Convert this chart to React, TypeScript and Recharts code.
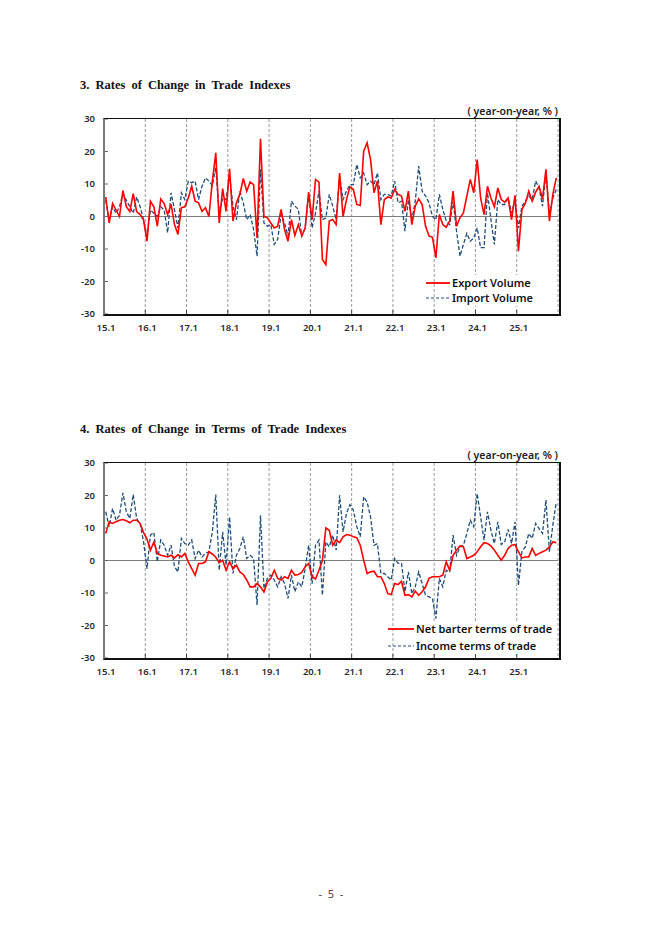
import React from "react";
import { LineChart, Line, XAxis, YAxis, CartesianGrid, ReferenceLine } from "recharts";

// monthly, 15.1 .. 25.12 (year-on-year, %)
const YEAR_LABELS = ["15.1", "16.1", "17.1", "18.1", "19.1", "20.1", "21.1", "22.1", "23.1", "24.1", "25.1"];
const Y_TICKS = [-30, -20, -10, 0, 10, 20, 30];

const EXPORT_VOLUME = [
  6, -2, 4, 2, 0, 8, 3, 1.5, 7, 1.5, 0.6, -1,
  -7.6, 4.7, 3, -3, 5.4, 4, 0.6, 3.7, -2.5, -5.5, 2.7, 3,
  5.7, 9.3, 4.7, 4.2, 1.6, 2.7, 0, 10.8, 19.6, -2, 8.6, 1.6,
  14.7, -1.4, 4.2, 6.8, 11.7, 7.8, 10.6, 9.8, -6.6, 23.9, 0, -0.4,
  -2, -3.5, -3, 2.2, -4, -7.6, -1, -5.8, -2.5, -6, -3.5, 7.5,
  -1, 11.4, 10.6, -13.2, -14.8, -1.4, -0.9, -2.5, 13.4, 0, 5.2, 9.1,
  8.3, 3.7, 3.4, 20.1, 22.7, 17.5, 7.3, 10.9, -2.5, 5.2, 6, 5.7,
  8.3, 6.8, 6.3, 1.6, 7.8, -2.5, 3.2, 5.4, 3.7, -3, -6, -6.4,
  -12.7, 0.6, -2.5, -3.3, -1.4, 7.8, -3, -0.4, 1.1, 6.3, 11.4, 7.3,
  17.5, 5.7, 0.6, 9.3, 5.7, 3, 8.8, 5.2, 4.4, 5.7, -1, 6.5,
  -10.7, 2.2, 4, 7.8, 4.7, 7.5, 9.3, 5.4, 14.5, -1.4, 6.8, 11.9,
];

const IMPORT_VOLUME = [
  5, -1, 3, 1, 3, 7, 5, 3, 1, 6, 3, -1,
  -6, 2, 1, 0, 3, 2, -5, 7.3, 2, -3.5, 7.3, 5.2,
  10.9, 10.4, 10.9, 5.2, 9.3, 11.9, 10.9, 9.5, 15, 1.1, 5.7, 5.2,
  12.9, 3.2, -1, 7.8, 4.2, -1, 0.6, -4, -12.2, 14.5, -2, -3,
  -2.5, -8.6, -7, 0.6, -2, -6, 4.7, 3.2, 2.2, -6, -3.5, 6.8,
  -3.5, 1.1, 7.8, -1, -0.4, 6.8, 3.2, -1, 12.4, 5.2, 7.8, 9.8,
  9.8, 16, 11.9, 13.4, 9.8, 10.9, 9.8, 13.4, 5.2, 6.8, 6.8, 6.3,
  10.9, 4.2, 4.7, -4.5, 5.2, -1, 4.7, 15.5, 7.8, 6.3, 4.2, 0,
  -1, 6.8, 2.2, -1.4, -2.5, 4.7, -4.5, -12.2, -8.6, -5.2, -7.6, -6.6,
  -3.5, -9.6, -9.6, 7.3, -1, -8.6, 5.2, 3.7, 3.7, 5.7, 1.1, 5.2,
  -3.5, 3.2, 4.7, 6.3, 5.2, 10.9, 8.8, 3.2, 13.4, 1.1, 5.7, 8.3,
];

const NET_BARTER_TOT = [
  8.3, 11.9, 11.4, 11.9, 12.4, 12.6, 12.2, 11.6, 12.4, 12.4, 11.4, 8.6,
  6.6, 3.2, 5.7, 2.2, 1.6, 1.4, 1.1, 1.6, 0.8, 1.8, 1.1, 2.2,
  -0.4, -2.5, -4.5, -0.9, -0.9, -0.4, 2.7, 2, 1, -0.6, 0.1, -3,
  -0.4, -2.5, -1.4, -3.5, -4.3, -6, -8.1, -8.1, -7.1, -8.1, -9.7, -6.6,
  -5.5, -3, -5.5, -6, -5, -5.5, -3, -4.5, -4.3, -3.7, -1.9, -0.9,
  -5, -5.7, -3, 0, 10, 9.3, 4.7, 6.3, 5.5, 7.3, 8, 7.8,
  7.3, 7, 4.7, 0.1, -4, -3.5, -3.3, -5, -5, -7.1, -10.2, -10.5,
  -7.1, -7.4, -6.4, -10.7, -10.5, -11.2, -9.4, -10.7, -9.6, -8.1, -5.5, -5,
  -5, -5, -4.5, -0.4, -3, 1.6, 3.2, 4.5, 4.2, 0.6, 1.1, 1.6,
  2.7, 4.2, 5.5, 5.2, 4.5, 3.2, 1.6, 0.1, 1.6, 3.7, 4.7, 4.9,
  2.7, 0.8, 1.1, 1.1, 3.7, 1.6, 2.2, 2.7, 3.2, 4.2, 5.7, 5.5,
];

const INCOME_TOT = [
  15, 10.4, 16, 12.4, 13.9, 20.8, 15, 12.9, 20.3, 12.9, 11.4, 5.7,
  -2.5, 7.8, 8.6, -0.4, 6.3, 4.7, 1.6, 4.7, -1.9, -3.5, 6.8, 5.2,
  4.7, 6.3, 0.6, 3.2, 1.1, 2.2, 2.7, 8.8, 20.3, -3, 8.8, -1.4,
  13.4, -4, 1.6, 3.7, 7.3, 0.6, 1.6, 0.6, -13.7, 13.9, -8.6, -5.5,
  -4.5, -6, -8.1, -5, -7.1, -11.7, -4.5, -9.6, -6.6, -8.1, -2.5, 4.7,
  -7.1, 4.7, 6.3, -10.7, 5.7, 4.2, 7.8, 3.2, 20.1, 8.8, 14.5, 17.2,
  15.5, 10.4, 7.3, 19.6, 18, 13.4, 4.7, 5.2, -4, -4, -5, -6,
  0.6, -0.9, -0.9, -9.6, -3.5, -10.2, -8.1, -3.5, -7.1, -10.7, -11.2, -11.7,
  -17.8, -5.5, -8.1, -3, -3.5, 7.8, 1.6, 4.2, 4.7, 8.3, 12.4, 10.4,
  20.6, 13.4, 6.3, 15, 9.3, 5.2, 11.9, 4.9, 5.7, 9.6, 5.2, 11.9,
  -7.6, 2.7, 4.2, 8.3, 6.8, 11.4, 9.8, 8.3, 18.6, 2.7, 10.9, 18,
];

const RED = "#ff0000";
const BLUE = "#1f4e79";
const TICK_FONT = { fontFamily: "'Noto Sans', sans-serif", fontSize: 9.5, fontWeight: 600, fill: "#2a2a2a" };

const PLOT_LEFT = 104;
const PLOT_W = 454;
const PLOT_H = 195;
const M_TOP = 10;
const X_AXIS_H = 30;

type PanelProps = {
  top: number; // plot top on page
  title: string;
  names: [string, string];
  a: number[];
  b: number[];
  legend: { x: number; y: number; gap: number; line: number };
};

function Panel({ top, title, names, a, b, legend }: PanelProps) {
  const data = a.map((v, i) => ({ t: i + 0.5, a: v, b: b[i] }));
  const ticks = YEAR_LABELS.map((_, i) => i * 12);

  return (
    <>
      <div
        style={{
          position: "absolute", left: 80, top: top - 42, height: 16, lineHeight: "16px",
          fontFamily: "'Liberation Serif', serif", fontWeight: 700, fontSize: 12.5, wordSpacing: 3, color: "#111",
        }}
      >
        {title}
      </div>
      <div
        style={{
          position: "absolute", right: 662 - 558, top: top - 15, height: 14, lineHeight: "14px",
          fontFamily: "'Noto Sans', sans-serif", fontWeight: 600, fontSize: 10.5, color: "#222", whiteSpace: "pre",
        }}
      >
        {"( year-on-year, % )"}
      </div>
      <div style={{ position: "absolute", left: 0, top: top - M_TOP }}>
        <LineChart
          width={662}
          height={M_TOP + PLOT_H + X_AXIS_H}
          data={data}
          margin={{ top: M_TOP, right: 662 - PLOT_LEFT - PLOT_W, bottom: 0, left: PLOT_LEFT - 20 }}
        >
          <CartesianGrid horizontal={false} stroke="#9a9a9a" strokeDasharray="3 2" />
          <XAxis
            dataKey="t"
            type="number"
            domain={[0, 132]}
            ticks={ticks}
            tickFormatter={(v: number) => YEAR_LABELS[Math.round(v / 12)]}
            height={X_AXIS_H}
            tickSize={-4}
            tickMargin={14}
            tick={{ ...TICK_FONT, dx: 2 }}
            axisLine={false}
            stroke="#444"
            interval={0}
          />
          <YAxis
            width={20}
            domain={[-30, 30]}
            ticks={Y_TICKS}
            tickSize={-4}
            tickMargin={13}
            tick={TICK_FONT}
            axisLine={false}
            stroke="#666"
            interval={0}
          />
          <ReferenceLine y={0} stroke="#7f7f7f" strokeWidth={1} />
          <Line
            dataKey="b"
            name={names[1]}
            stroke={BLUE}
            strokeWidth={1.3}
            strokeDasharray="4 2"
            dot={false}
            isAnimationActive={false}
          />
          <Line
            dataKey="a"
            name={names[0]}
            stroke={RED}
            strokeWidth={1.6}
            dot={false}
            isAnimationActive={false}
          />
        </LineChart>
      </div>
      {/* plot frame */}
      <div
        style={{
          position: "absolute", left: PLOT_LEFT - 1, top: top - 1, width: PLOT_W, height: PLOT_H,
          borderTop: "1.5px solid #111", borderRight: "2px solid #111", borderBottom: "2px solid #111",
          borderLeft: "2.5px solid #7a7a7a", pointerEvents: "none",
        }}
      />
      {/* legend */}
      {names.map((n, i) => (
        <div
          key={n}
          style={{
            position: "absolute", left: legend.x, top: legend.y + i * legend.gap - 8, height: 16,
            display: "flex", alignItems: "center",
          }}
        >
          <svg width={legend.line} height={4} style={{ display: "block" }}>
            <line
              x1={0} y1={2} x2={legend.line} y2={2}
              stroke={i === 0 ? RED : BLUE}
              strokeWidth={i === 0 ? 1.8 : 1.2}
              strokeDasharray={i === 0 ? undefined : "3 2"}
            />
          </svg>
          <span
            style={{
              marginLeft: 2, fontFamily: "'Noto Sans', sans-serif", fontWeight: 600, fontSize: 11, color: "#111",
              lineHeight: "16px", whiteSpace: "pre", background: "#fff",
            }}
          >
            {n}
          </span>
        </div>
      ))}
    </>
  );
}

export default function App() {
  return (
    <div style={{ position: "absolute", left: 0, top: 0, width: 662, height: 935, background: "#fff" }}>
      <Panel
        top={119}
        title="3. Rates of Change in Trade Indexes"
        names={["Export Volume", "Import Volume"]}
        a={EXPORT_VOLUME}
        b={IMPORT_VOLUME}
        legend={{ x: 426, y: 283, gap: 14.5, line: 24 }}
      />
      <Panel
        top={463}
        title="4. Rates of Change in Terms of Trade Indexes"
        names={["Net barter terms of trade", "Income terms of trade"]}
        a={NET_BARTER_TOT}
        b={INCOME_TOT}
        legend={{ x: 388, y: 628.5, gap: 17, line: 26 }}
      />
      <div
        style={{
          position: "absolute", left: 0, width: 662, top: 886, textAlign: "center",
          fontFamily: "'Noto Sans', sans-serif", fontSize: 11, color: "#444", whiteSpace: "pre",
        }}
      >
        {"-  5  -"}
      </div>
    </div>
  );
}
